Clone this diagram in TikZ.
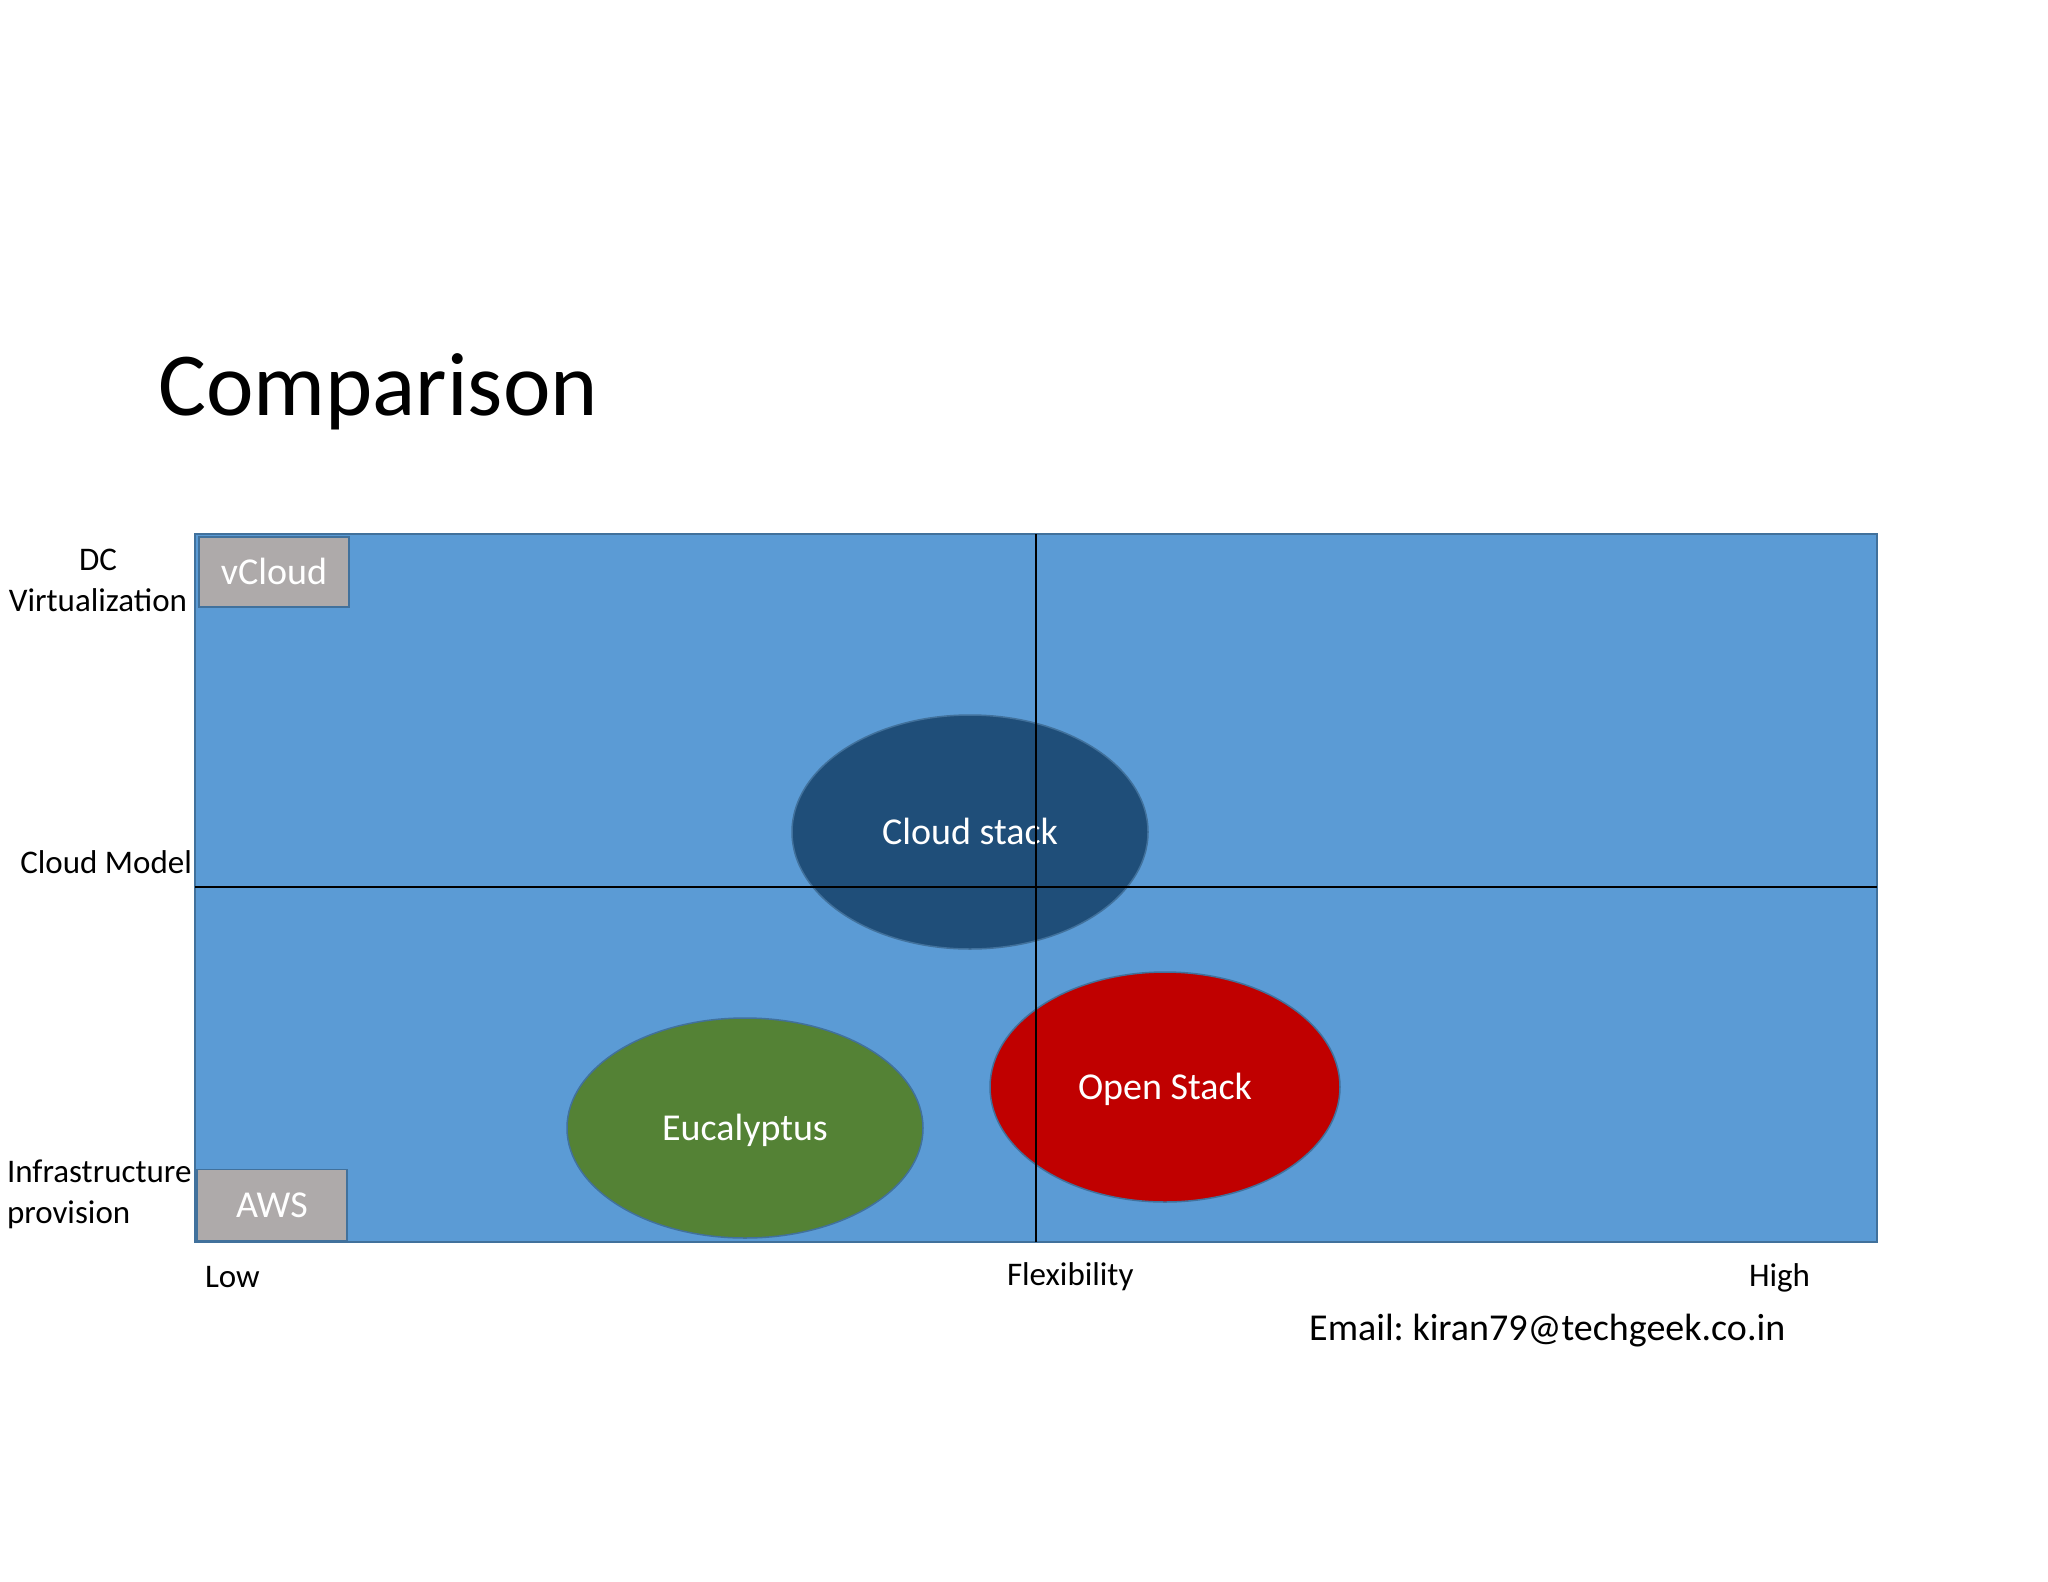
\documentclass[tikz,border=0pt]{standalone}
\usepackage{fontspec}
\setmainfont{Carlito}
\usetikzlibrary{shapes.geometric}
\frenchspacing
\definecolor{panelblue}{HTML}{5B9BD5}
\definecolor{edgeblue}{HTML}{41719C}
\definecolor{darkblue}{HTML}{1F4E79}
\definecolor{leafgreen}{HTML}{548235}
\definecolor{stackred}{HTML}{C00000}
\definecolor{boxgray}{HTML}{AEAAAA}
\begin{document}
\begin{tikzpicture}[x=1pt,y=-1pt,
  lbl/.style={font=\fontsize{33}{41}\selectfont, inner sep=0pt, outer sep=0pt},
  blob/.style={ellipse, draw=edgeblue, line width=1.5pt, inner sep=0pt, outer sep=0pt,
    text=white, font=\fontsize{38}{46}\selectfont, text height=25pt, text depth=0pt},
  tagbox/.style={rectangle, draw=edgeblue, line width=1.5pt, fill=boxgray, inner sep=0pt, outer sep=0pt,
    text=white, font=\fontsize{38}{46}\selectfont, text height=25pt, text depth=0pt},
  gridline/.style={draw=black, line width=1.5pt}
]
\useasboundingbox[fill=white] (0,0) rectangle (2048,1582);

% title
\node[anchor=base west, inner sep=0pt, font=\fontsize{90}{108}\selectfont] (title) at (158,415) {Comparison};

% panel
\node[draw=edgeblue, fill=panelblue, line width=1.5pt, inner sep=0pt, outer sep=0pt,
      minimum width=1682pt, minimum height=708pt, anchor=north west] (panel) at (195,534) {};

% bubbles
\node[blob, fill=darkblue, minimum width=356pt, minimum height=234pt] (cs) at (970,832) {Cloud stack};
\node[blob, fill=leafgreen, minimum width=356pt, minimum height=220pt] (eu) at (745,1128) {Eucalyptus};
\node[blob, fill=stackred, minimum width=350pt, minimum height=230pt] (os) at (1165,1087) {Open Stack};

% tags
\node[tagbox, minimum width=150pt, minimum height=70pt] (vc) at (274,572) {vCloud};
\node[tagbox, minimum width=150pt, minimum height=71pt] (aws) at (272,1205) {AWS};

% grid lines
\coordinate (vtop) at (1036,534);
\coordinate (vbot) at (1036,1242);
\coordinate (hleft) at (195,887);
\coordinate (hright) at (1877,887);
\draw[gridline] (vtop) -- (vbot);
\draw[gridline] (hleft) -- (hright);

% axis labels
\node[lbl, anchor=base] (dc1) at (98,570) {DC};
\node[lbl, anchor=base] (dc2) at (98,611) {Virtualization};
\node[lbl, anchor=base east] (cm) at (192,873) {Cloud Model};
\node[lbl, anchor=base west] (ip1) at (7,1182) {Infrastructure};
\node[lbl, anchor=base west] (ip2) at (7,1223) {provision};
\node[lbl, anchor=base west] (low) at (205,1287) {Low};
\node[lbl, anchor=base west] (flex) at (1007,1285) {Flexibility};
\node[lbl, anchor=base west] (high) at (1749,1286) {High};

% email
\node[anchor=base west, inner sep=0pt, font=\fontsize{38}{46}\selectfont] (email) at (1309,1340) {Email: kiran79@techgeek.co.in};
\end{tikzpicture}
\end{document}
